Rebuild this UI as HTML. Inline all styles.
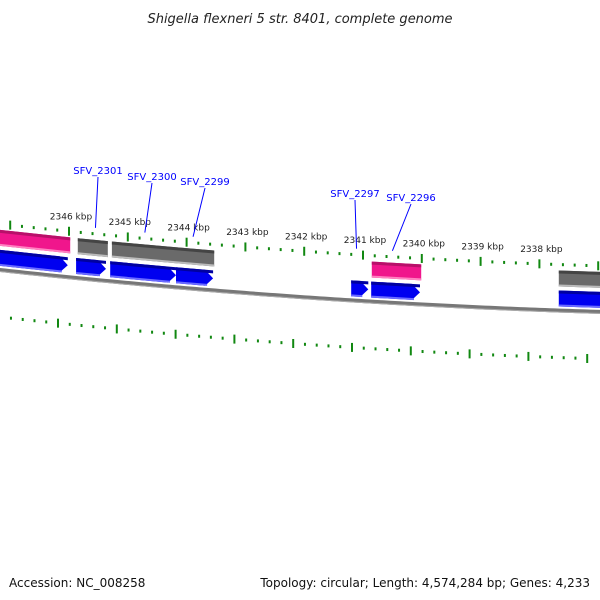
<!DOCTYPE html>
<html><head><meta charset="utf-8"><style>
html,body{margin:0;padding:0;background:#fff;width:600px;height:600px;overflow:hidden}
svg{display:block;font-family:"DejaVu Sans","Liberation Sans",sans-serif}
</style></head><body>
<svg id="map" width="600" height="600" viewBox="0 0 600 600">
<text x="300" y="23" text-anchor="middle" font-size="13" font-style="italic" fill="#222">Shigella flexneri 5 str. 8401, complete genome</text>
<text x="9" y="587" font-size="12" fill="#111">Accession: NC_008258</text>
<text x="590" y="587" font-size="12" fill="#111" text-anchor="end">Topology: circular; Length: 4,574,284 bp; Genes: 4,233</text>
</svg>
<script>
const kbpTicks=[2347,2346,2345,2344,2343,2342,2341,2340,2339,2338,2337];
const kbpLabels=["2346 kbp","2345 kbp","2344 kbp","2343 kbp","2342 kbp","2341 kbp","2340 kbp","2339 kbp","2338 kbp"];
const labelKbp=[2346,2345,2344,2343,2342,2341,2340,2339,2338];
const fwdStarts=[2347.3,2345.88,2345.30,2344.18,2341.20,2340.86,2337.67];
const fwdEnds=[2346.02,2345.37,2344.18,2343.55,2340.91,2340.03,2336.8];
const fwdArrow=[1,1,1,1,1,1,0];
const upStarts=[2347.3,2345.85,2345.27,2344.18,2340.85,2337.67];
const upEnds=[2345.98,2345.34,2344.18,2343.53,2340.01,2336.8];
const upColor=["pink","gray","gray","gray","pink","gray"];
const geneNames=["SFV_2301","SFV_2300","SFV_2299","SFV_2297","SFV_2296"];
const geneKbp=[2345.55,2344.71,2343.89,2341.11,2340.5];
const nameX=[98,152,205,355,411];
const nameY=[174,180,185,197,201];

const NS="http://www.w3.org/2000/svg";
const svg=document.getElementById('map');
function X(k){return 69+(2346-k)*58.8;}
function yb(x){return 270+0.11*x-0.000067*x*x;}
function mk(t,a){const e=document.createElementNS(NS,t);for(const k in a)e.setAttribute(k,a[k]);svg.appendChild(e);return e;}

let d="";for(let x=-5;x<=605;x+=5){d+=(x<0?"M":"L")+x+","+yb(x).toFixed(2);}
let bb=mk('path',{d:d,stroke:'#777',fill:'none','stroke-width':4});


let bb2=mk('path',{d:d,stroke:'#aaa',fill:'none','stroke-width':1,transform:'translate(0,1.5)'});



for(let k=2347.2;k>=2336.8;k-=0.2){
  const kk=Math.round(k*5)/5;const x=X(kk);if(x<3||x>600)continue;
  const major=Math.abs(kk-Math.round(kk))<0.01;
  const h=major?9:3;
  const t=mk('rect',{x:x-1,y:yb(x)-46-h/2,width:2,height:h,fill:'#118811'});
  
  
  const xb=x-11;
  if(xb>3&&xb<600){
  const b=mk('rect',{x:xb-1,y:yb(xb)+47-h/2,width:2,height:h,fill:'#118811'});
  
  }
}
labelKbp.forEach((k,i)=>{const x=X(k)+2;
  const t=mk('text',{x:x,y:yb(x)-58,'font-size':9,'text-anchor':'middle',fill:'#222'});
  t.textContent=kbpLabels[i];
  
  });

function band(x1,x2,o1,o2,arrow){
  x1=Math.max(x1,-5);x2=Math.min(x2,605);
  const tip=arrow?8:0;const xe=x2-tip;
  let p=[[x1,yb(x1)+o1],[xe,yb(xe)+o1]];
  if(arrow)p.push([x2,yb(x2)+(o1+o2)/2]);
  p.push([xe,yb(xe)+o2],[x1,yb(x1)+o2]);
  return p.map(q=>q[0].toFixed(1)+","+q[1].toFixed(1)).join(" ");
}
upStarts.forEach((s,i)=>{const x1=X(s),x2=X(upEnds[i]);
  const c=upColor[i]=="pink"?['#f0168c','#b8106a','#ff80c0']:['#6a6a6a','#444','#bbb'];
  const g=mk('polygon',{points:band(x1,x2,-40,-24,0),fill:c[0]});
  
  
  const a=mk('polygon',{points:band(x1,x2,-40,-37,0),fill:c[1]});
  
  
  const b=mk('polygon',{points:band(x1,x2,-26,-24,0),fill:c[2]});
  
  
});
fwdStarts.forEach((s,i)=>{const x1=X(s),x2=X(fwdEnds[i]);
  const g=mk('polygon',{points:band(x1,x2,-20,-4,fwdArrow[i]),fill:'#0000f0'});
  
  
  const a=mk('polygon',{points:band(x1,x2,-20,-17,0),fill:'#0000a0'});
  
  
  const b=mk('polygon',{points:band(x1,x2-(fwdArrow[i]?6:0),-6,-4,0),fill:'#6a6aff'});
  
  
});
geneNames.forEach((n,i)=>{const x=X(geneKbp[i]);
  const l=mk('line',{x1:nameX[i],y1:nameY[i]+3,x2:x,y2:yb(x)-52,stroke:'#0000ff','stroke-width':1});
  
  
  const t=mk('text',{x:nameX[i],y:nameY[i],'font-size':10,'text-anchor':'middle',fill:'#0000ff'});
  t.textContent=n;
  
  });
</script>
</body></html>
